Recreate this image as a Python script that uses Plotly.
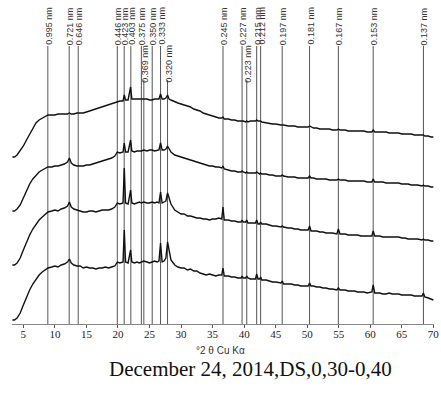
import math
import plotly.graph_objects as go

# ---------------- data ----------------
WAVELENGTH_NM = 0.15406  # Cu K-alpha

D_SPACINGS = [0.995, 0.721, 0.646, 0.446, 0.423, 0.403, 0.375, 0.369, 0.350, 0.333, 0.320,
              0.245, 0.227, 0.223, 0.215, 0.212, 0.197, 0.181, 0.167, 0.153, 0.137]
# 1 = label placed on the lower (staggered) row
LABEL_ROW = [0, 0, 0, 0, 0, 0, 0, 1, 0, 0, 1,
             0, 0, 1, 0, 0, 0, 0, 0, 0, 0]

TWO_THETA = [
    3.26, 3.6, 4.0, 4.5, 5.0, 5.5, 6.0, 6.5, 7.0, 7.5,
    8.0, 8.5, 8.9, 9.5, 10.0, 10.5, 11.0, 11.5, 12.0, 12.3,
    12.6, 13.0, 13.5, 14.0, 14.5, 15.0, 15.5, 16.0, 16.5, 17.0,
    17.5, 18.0, 18.5, 19.0, 19.5, 19.9, 20.3, 20.8, 21.0, 21.2,
    21.6, 22.0, 22.2, 22.6, 23.0, 23.4, 23.7, 24.1, 24.6, 25.0,
    25.4, 25.8, 26.2, 26.5, 26.75, 27.0, 27.3, 27.6, 27.86, 28.1,
    28.4, 29.0, 29.5, 30.0, 30.5, 31.0, 31.5, 32.0, 32.5, 33.0,
    33.5, 34.0, 34.5, 35.0, 35.5, 36.0, 36.45, 36.65, 36.85, 37.5,
    38.0, 38.5, 39.0, 39.5, 39.67, 39.85, 40.25, 40.41, 40.6, 41.0,
    41.5, 41.8, 41.99, 42.2, 42.45, 42.61, 42.8, 43.5, 44.0, 44.5,
    45.0, 45.5, 45.85, 46.04, 46.25, 47.0, 47.5, 48.0, 48.5, 49.0,
    49.5, 50.15, 50.38, 50.6, 51.0, 51.5, 52.0, 52.5, 53.0, 53.5,
    54.0, 54.7, 54.94, 55.2, 56.0, 56.5, 57.0, 57.5, 58.0, 58.5,
    59.0, 59.5, 60.25, 60.46, 60.7, 61.5, 62.0, 62.5, 63.0, 63.5,
    64.0, 64.5, 65.0, 65.5, 66.0, 66.5, 67.0, 67.5, 68.2, 68.42,
    68.65, 69.2, 69.6, 70.0,
]

INT_AD = [
    4, 4, 6, 11, 19, 27, 34, 40, 45, 49,
    52, 54, 56, 57, 58, 57, 59, 60, 62, 65,
    61, 59, 58, 58, 56, 57, 56, 56, 55, 56,
    56, 57, 56, 57, 58, 62, 61, 62, 94, 62,
    61, 74, 62, 61, 62, 61, 62, 63, 62, 61,
    62, 63, 62, 63, 81, 62, 63, 66, 82, 72,
    64, 59, 57, 56, 56, 54, 55, 53, 53, 51,
    50, 49, 50, 49, 48, 49, 49, 56, 48, 48,
    47, 47, 46, 46, 48, 46, 46, 48, 46, 45,
    45, 45, 50, 45, 45, 47, 44, 44, 43, 42,
    42, 41, 41, 43, 40, 40, 40, 39, 39, 38,
    38, 38, 41, 38, 38, 37, 37, 36, 36, 35,
    35, 34, 36, 34, 34, 33, 33, 33, 32, 32,
    32, 31, 32, 39, 31, 31, 30, 30, 31, 30,
    30, 30, 29, 29, 29, 29, 28, 28, 28, 31,
    27, 26, 25, 24,
]

INT_EG = [
    59, 59, 61, 66, 74, 82, 89, 95, 100, 104,
    107, 110, 112, 113, 114, 113, 115, 116, 118, 122,
    117, 115, 114, 113, 112, 112, 113, 113, 112, 113,
    114, 114, 114, 115, 117, 121, 120, 121, 156, 121,
    120, 134, 121, 120, 121, 122, 121, 122, 121, 121,
    122, 121, 122, 121, 132, 121, 122, 123, 131, 125,
    120, 114, 112, 110, 110, 108, 108, 107, 106, 106,
    105, 105, 104, 105, 105, 106, 105, 117, 104, 104,
    103, 103, 102, 102, 104, 102, 102, 104, 101, 101,
    101, 101, 104, 100, 100, 102, 100, 100, 99, 98,
    98, 97, 97, 98, 97, 96, 96, 95, 95, 94,
    94, 94, 98, 93, 93, 93, 92, 92, 91, 91,
    91, 90, 95, 90, 90, 89, 89, 89, 89, 88,
    88, 88, 88, 93, 88, 88, 87, 87, 87, 87,
    87, 87, 86, 86, 85, 85, 85, 85, 84, 85,
    84, 84, 83, 83,
]

INT_250 = [
    113, 113, 115, 119, 126, 133, 140, 145, 149, 152,
    154, 156, 157, 157, 158, 158, 159, 160, 162, 166,
    161, 159, 158, 158, 158, 159, 159, 160, 161, 162,
    163, 164, 165, 166, 168, 172, 171, 172, 181, 172,
    172, 184, 173, 172, 173, 173, 173, 174, 173, 174,
    174, 173, 174, 174, 181, 174, 174, 175, 178, 175,
    172, 169, 168, 167, 166, 165, 164, 163, 162, 161,
    160, 159, 158, 158, 157, 157, 156, 158, 155, 154,
    153, 153, 152, 152, 153, 152, 151, 152, 151, 151,
    151, 151, 152, 151, 150, 151, 150, 150, 149, 149,
    148, 148, 148, 149, 148, 147, 147, 147, 146, 146,
    146, 146, 148, 146, 146, 145, 145, 145, 145, 144,
    144, 144, 145, 144, 144, 143, 143, 143, 143, 143,
    143, 142, 142, 145, 142, 142, 142, 141, 141, 141,
    141, 141, 140, 140, 140, 139, 139, 139, 138, 139,
    138, 138, 137, 137,
]

INT_550 = [
    167, 167, 169, 173, 178, 184, 190, 196, 201, 204,
    206, 208, 209, 209, 209, 210, 210, 210, 210, 211,
    210, 210, 211, 211, 211, 212, 213, 214, 215, 216,
    217, 218, 219, 220, 221, 222, 223, 223, 229, 224,
    224, 237, 225, 225, 225, 225, 225, 225, 225, 224,
    224, 225, 225, 225, 230, 225, 225, 226, 229, 225,
    224, 222, 221, 220, 219, 218, 217, 215, 214, 213,
    211, 210, 209, 208, 207, 206, 206, 207, 205, 205,
    204, 204, 203, 203, 203, 203, 202, 203, 202, 203,
    203, 203, 204, 203, 203, 203, 202, 201, 201, 200,
    200, 199, 199, 199, 199, 198, 198, 198, 197, 197,
    197, 197, 198, 197, 196, 196, 195, 195, 195, 195,
    194, 194, 195, 194, 194, 193, 193, 193, 193, 193,
    193, 192, 192, 194, 192, 192, 192, 192, 191, 191,
    191, 191, 190, 190, 190, 190, 189, 189, 189, 189,
    188, 188, 187, 187,
]

SERIES_NAMES = ["AD", "EG", "250 °C", "550 °C"]
SERIES_VALUES = [INT_AD, INT_EG, INT_250, INT_550]
SERIES_LABEL_Y = [42, 97, 151, 199]

X_TICKS = [5, 10, 15, 20, 25, 30, 35, 40, 45, 50, 55, 60, 65, 70]

# ---------------- figure ----------------
fig = go.Figure()

for name, vals in zip(SERIES_NAMES, SERIES_VALUES):
    fig.add_trace(go.Scatter(x=TWO_THETA, y=vals, mode="lines", name=name,
                             line=dict(color="#111111", width=1.4),
                             showlegend=False, hoverinfo="skip"))

Y_TOP = 324
LINE_TOP = [278, 244]
LABEL_TOP = [319, 281]

shapes = []
annotations = []
for d, row in zip(D_SPACINGS, LABEL_ROW):
    tt = 2 * math.degrees(math.asin(WAVELENGTH_NM / (2 * d)))
    shapes.append(dict(type="line", xref="x", yref="y", x0=tt, x1=tt,
                       y0=0, y1=LINE_TOP[row], layer="below",
                       line=dict(color="#555555", width=1)))
    annotations.append(dict(x=tt, y=LABEL_TOP[row], xref="x", yref="y",
                            text=f"{d:.3f} nm", textangle=-90, showarrow=False,
                            xanchor="center", yanchor="top", xshift=1,
                            font=dict(family="Liberation Sans, Arial", size=9, color="#333333")))

for name, ly in zip(SERIES_NAMES, SERIES_LABEL_Y):
    annotations.append(dict(x=70.15, y=ly, xref="x", yref="y", text=name,
                            showarrow=False, xanchor="right", yanchor="middle",
                            font=dict(family="Liberation Sans, Arial", size=12, color="#333333")))

annotations.append(dict(x=0.493, y=0, xref="paper", yref="paper", yshift=-26,
                        text="°2 θ Cu Kα", showarrow=False, xanchor="center", yanchor="middle",
                        font=dict(family="Liberation Sans, Arial", size=10, color="#333333")))
annotations.append(dict(x=0.564, y=0, xref="paper", yref="paper", yshift=-45,
                        text="December 24, 2014,DS,0,30-0,40", showarrow=False,
                        xanchor="center", yanchor="middle",
                        font=dict(family="Liberation Serif, Times New Roman", size=21, color="#111111")))

fig.update_layout(
    width=441, height=406,
    margin=dict(l=12, r=7, t=0, b=82),
    paper_bgcolor="white", plot_bgcolor="white",
    shapes=shapes, annotations=annotations,
    xaxis=dict(range=[3.2, 70.1], tickvals=X_TICKS, ticks="outside", ticklen=3,
               tickcolor="#555555", showline=True, linecolor="#888888", linewidth=1,
               showgrid=False, zeroline=False, ticklabelstandoff=-3,
               tickfont=dict(family="Liberation Serif, Times New Roman", size=11, color="#222222")),
    yaxis=dict(range=[0, Y_TOP], visible=False, showgrid=False, zeroline=False),
)

fig.write_html("out.html")
